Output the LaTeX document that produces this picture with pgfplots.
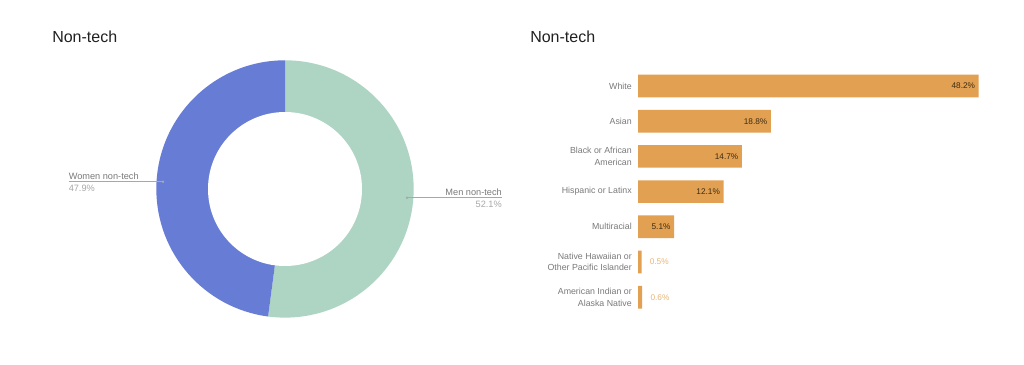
\documentclass[border=0pt]{standalone}
\usepackage{pgfplots}
\pgfplotsset{compat=1.18}
\usepackage{fontspec}
\setmainfont{Liberation Sans}
\definecolor{menc}{HTML}{AED5C4}
\definecolor{womenc}{HTML}{677CD4}
\definecolor{barc}{HTML}{E2A052}
\definecolor{lbl}{HTML}{7A7A7A}
\definecolor{lbllight}{HTML}{A8A8A8}
\definecolor{ttl}{HTML}{212121}
\definecolor{val}{HTML}{3E2C10}
\definecolor{valout}{HTML}{E8B677}
\def\menv{52.1}
\def\womenv{47.9}
\begin{document}
\begin{tikzpicture}[x=0.75pt,y=-0.75pt]
\path[use as bounding box, fill=white] (0,0) rectangle (1024,364);
\coordinate (dc) at (285,189);
\coordinate (bc) at (638,86);
\node[anchor=base west, font=\fontsize{12}{14}\selectfont, text=ttl, inner sep=0] at (52,42) {Non-tech};
\node[anchor=base west, font=\fontsize{12}{14}\selectfont, text=ttl, inner sep=0] at (530,42) {Non-tech};

% Donut
\begin{axis}[at={(dc)}, anchor=center, x=0.75pt, y=0.75pt,
  xmin=-150, xmax=150, ymin=-150, ymax=150, hide axis, clip=false, scale only axis]
\pgfmathsetmacro\mang{90-3.6*\menv}
\pgfmathsetmacro\wang{90+3.6*\womenv}
\fill[menc] (axis cs:0,0) -- (axis cs:0,128.7) arc[start angle=90, end angle=\mang, radius=96.5pt] -- cycle;
\fill[womenc] (axis cs:0,0) -- (axis cs:0,128.7) arc[start angle=90, end angle=\wang, radius=96.5pt] -- cycle;
\fill[white] (axis cs:0,0) circle[radius=57.75pt];
% women label
\draw[lbllight, line width=0.6pt] (axis cs:-216.5,7.2) -- (axis cs:-122,7.2);
\fill[lbllight] (axis cs:-122,7.2) circle[radius=1pt];
\node[anchor=south west, inner sep=0, yshift=1.6pt, font=\fontsize{6.9}{8}\selectfont, text=lbl] at (axis cs:-216.5,7.2) {Women non-tech};
\node[anchor=north west, inner sep=0, yshift=-2.2pt, font=\fontsize{6.9}{8}\selectfont, text=lbllight] at (axis cs:-216.5,7.2) {\womenv\%};
% men label
\draw[lbllight, line width=0.6pt] (axis cs:122,-8.8) -- (axis cs:217,-8.8);
\fill[lbllight] (axis cs:122,-8.8) circle[radius=1pt];
\node[anchor=south east, inner sep=0, yshift=1.6pt, font=\fontsize{6.9}{8}\selectfont, text=lbl] at (axis cs:217,-8.8) {Men non-tech};
\node[anchor=north east, inner sep=0, yshift=-2.2pt, font=\fontsize{6.9}{8}\selectfont, text=lbllight] at (axis cs:217,-8.8) {\menv\%};
\end{axis}

% Bars
\begin{axis}[at={(bc)}, anchor=origin, x=5.3pt, y=26.4pt, y dir=reverse,
  xmin=0, xmax=50, ymin=-0.5, ymax=6.5, scale only axis, clip=false,
  xbar, bar width=17pt, bar shift=0pt,
  axis line style={draw=none}, xtick=\empty, ytick={0,1,2,3,4,5,6}, major tick length=0pt,
  yticklabels={White, Asian, {Black or African\\American}, {Hispanic or Latinx}, Multiracial, {Native Hawaiian or\\Other Pacific Islander}, {American Indian or\\Alaska Native}},
  yticklabel style={align=right, font=\fontsize{6.6}{8.6}\selectfont, text=lbl, inner sep=0pt, xshift=-4.5pt},
  /pgf/number format/assume math mode=true,
  nodes near coords={\pgfmathprintnumber[fixed,precision=1,fixed zerofill,assume math mode=true]{\pgfplotspointmeta}\%},
  point meta=x]
\addplot[fill=barc, draw=none, nodes near coords style={anchor=east, xshift=-2.5pt, inner sep=0pt, font=\fontsize{6.2}{7}\selectfont, text=val}]
  coordinates {(48.2,0) (18.8,1) (14.7,2) (12.1,3) (5.1,4)};
\addplot[fill=barc, draw=none, nodes near coords style={anchor=west, xshift=6pt, inner sep=0pt, font=\fontsize{6.2}{7}\selectfont, text=valout}]
  coordinates {(0.5,5) (0.6,6)};
\end{axis}
\end{tikzpicture}
\end{document}
